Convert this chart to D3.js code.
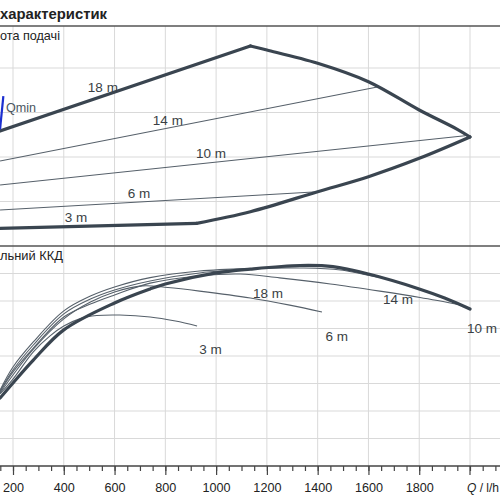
<!DOCTYPE html>
<html><head><meta charset="utf-8">
<script src="https://cdn.jsdelivr.net/npm/d3@7"></script>
<style>html,body{margin:0;padding:0;background:#fff;overflow:hidden}</style>
</head><body><svg id="c" width="500" height="500"></svg>
<script>
// ---------- data ----------
const titleText = "характеристик";
const topPanelText = "ота подачі";
const bottomPanelText = "льний ККД";
const xAxisName = "Q / l/h";
const qMajorTicks = [200, 400, 600, 800, 1000, 1200, 1400, 1600, 1800];
const qGrid = [200, 400, 600, 800, 1000, 1200, 1400, 1600, 1800, 2000];
const qMinorTicks = [150,200,250,300,350,400,450,500,550,600,650,700,750,800,850,900,950,1000,1050,1100,1150,1200,1250,1300,1350,1400,1450,1500,1550,1600,1650,1700,1750,1800,1850,1900,1950,2000,2050,2100];
const headGrid = [5, 10, 15, 20];
const effGrid = [10, 20, 30, 40, 50, 60, 70];

// top panel (Q, value)
const top18 = [[149, 12.92], [1135, 22.47]];
const topMaxCurve = [[1135, 22.47], [1200, 22.02], [1400, 20.53], [1600, 18.46], [1800, 15.28], [1950, 13.11], [2000, 12.25]];
const top14 = [[149, 9.55], [1635, 17.87]];
const top10 = [[149, 6.85], [1980, 12.39]];
const top6 = [[149, 4.04], [1400, 6.10]];
const top3 = [[149, 1.99], [923, 2.55]];
const topMinQCurve = [[923, 2.55], [1135, 3.85], [1400, 6.10], [1600, 7.79], [1800, 9.85], [2000, 12.25]];
const qminLine = [[149, 13.1], [162, 16.85]];

// bottom panel efficiency (Q, %)
const effMax = [[149,24.7],[200,30.2],[280,38.5],[400,49.5],[600,59.3],[740,64.4],[800,66.2],[1000,70.2],[1135,71.6],[1330,72.9],[1460,72.5],[1600,69.8],[1800,64.4],[1900,61.1],[2000,57.1]];
const eff18 = [[149,27.3],[200,34.9],[280,44.0],[400,55.3],[505,60.7],[600,64.0],[740,67.3],[935,70.2],[1055,71.1],[1135,71.5]];
const eff14 = [[149,27.6],[200,36.0],[280,45.1],[400,56.4],[505,61.8],[600,65.1],[740,68.5],[935,70.9],[1135,71.8],[1330,72.0],[1490,71.3],[1635,68.7]];
const eff10 = [[149,26.9],[200,34.2],[280,42.9],[400,54.2],[505,58.9],[600,62.2],[740,66.5],[935,69.1],[1095,69.8],[1250,68.4],[1450,66.2],[1645,63.6],[1803,61.3],[1970,58.5]];
const eff6 = [[149,26.5],[200,33.1],[280,42.5],[400,53.5],[505,59.6],[600,63.3],[710,65.5],[810,64.9],[935,63.6],[1135,61.1],[1290,58.5],[1417,56.0]];
const eff3 = [[149,26.2],[200,31.6],[280,41.5],[346,47.3],[400,50.9],[465,53.6],[530,54.7],[620,54.9],[740,54.2],[840,52.7],[925,50.9]];

const topLabels = [["18 m", 554, 17.87], ["14 m", 810, 14.16], ["10 m", 980, 10.45], ["6 m", 696, 5.96], ["3 m", 448, 3.26]];
const bottomLabels = [["18 m", 1204, 62.9], ["14 m", 1716, 60.7], ["10 m", 2047, 50.0], ["6 m", 1475, 47.4], ["3 m", 978, 42.4]];

// ---------- drawing ----------
const W = 500, H = 500;
const FONT = "'Liberation Sans', Arial, sans-serif";
const svg = d3.select("#c");
const x = d3.scaleLinear().domain([200, 2000]).range([13, 470]);
const yTop = d3.scaleLinear().domain([0, 25]).range([246, 23.5]);
const yBot = d3.scaleLinear().domain([0, 80]).range([466, 246]);

const defs = svg.append("defs");
defs.append("clipPath").attr("id", "clipTop").append("rect").attr("x", 0).attr("y", 26).attr("width", W).attr("height", 220);
defs.append("clipPath").attr("id", "clipBot").append("rect").attr("x", 0).attr("y", 246).attr("width", W).attr("height", 220);

const gridColor = "#d9d9d9";
const gGrid = svg.append("g");
gGrid.selectAll(".ht").data(headGrid).join("line")
  .attr("x1", 0).attr("x2", W).attr("y1", d => yTop(d)).attr("y2", d => yTop(d))
  .attr("stroke", gridColor).attr("stroke-width", 1);
gGrid.selectAll(".hb").data(effGrid).join("line")
  .attr("x1", 0).attr("x2", W).attr("y1", d => yBot(d)).attr("y2", d => yBot(d))
  .attr("stroke", gridColor).attr("stroke-width", 1);
gGrid.selectAll(".v").data(qGrid).join("line")
  .attr("x1", d => x(d)).attr("x2", d => x(d)).attr("y1", 26).attr("y2", 466)
  .attr("stroke", gridColor).attr("stroke-width", 1);

// separators
[26, 246].forEach(yy => svg.append("line").attr("x1", 0).attr("x2", W).attr("y1", yy).attr("y2", yy)
  .attr("stroke", "#555").attr("stroke-width", 1.4));

// axis
const axMinor = d3.axisBottom(x).tickValues(qMinorTicks).tickSize(5).tickFormat("");
const axMajor = d3.axisBottom(x).tickValues(qMajorTicks).tickSize(9).tickFormat(d => d);
const gMinor = svg.append("g").attr("transform", "translate(0,466)").call(axMinor);
const gMajor = svg.append("g").attr("transform", "translate(0,466)").call(axMajor);
[gMinor, gMajor].forEach(g => {
  g.select(".domain").remove();
  g.selectAll("line").attr("stroke", "#444").attr("stroke-width", 1.2);
});
gMajor.selectAll("text").attr("font-family", FONT).attr("font-size", 12.6).attr("fill", "#222").attr("dy", null).attr("y", 25.5);
const qlab = svg.append("text").attr("x", x(2000) - 3).attr("y", 491.5).attr("font-family", FONT).attr("font-size", 12).attr("fill", "#222");
qlab.append("tspan").attr("font-style", "italic").text("Q");
qlab.append("tspan").text(xAxisName.slice(1));
svg.append("line").attr("x1", x(2000)).attr("x2", x(2000)).attr("y1", 466).attr("y2", 475).attr("stroke", "#444").attr("stroke-width", 1.2);
svg.append("line").attr("x1", 0).attr("x2", W).attr("y1", 466).attr("y2", 466).attr("stroke", "#444").attr("stroke-width", 1.4);

// lines
const thick = "#3a4550", thin = "#56606a";
const lineTop = d3.line().x(d => x(d[0])).y(d => yTop(d[1]));
const curveTop = d3.line().x(d => x(d[0])).y(d => yTop(d[1])).curve(d3.curveCatmullRom.alpha(0.5));
const curveBot = d3.line().x(d => x(d[0])).y(d => yBot(d[1])).curve(d3.curveCatmullRom.alpha(0.5));

const gTop = svg.append("g").attr("clip-path", "url(#clipTop)");
[top14, top10, top6].forEach(d => gTop.append("path").attr("d", lineTop(d)).attr("fill", "none").attr("stroke", thin).attr("stroke-width", 1.1));
const thickStyle = p => p.attr("fill", "none").attr("stroke", thick).attr("stroke-width", 3.2).attr("stroke-linecap", "round").attr("stroke-linejoin", "round");
gTop.append("path").attr("d", lineTop(top18)).call(thickStyle);
gTop.append("path").attr("d", curveTop(topMaxCurve)).call(thickStyle);
gTop.append("path").attr("d", lineTop(top3)).call(thickStyle);
gTop.append("path").attr("d", curveTop(topMinQCurve)).call(thickStyle);
gTop.append("path").attr("d", lineTop(qminLine)).attr("fill", "none").attr("stroke", "#1c2fd0").attr("stroke-width", 2.2);

const gBot = svg.append("g").attr("clip-path", "url(#clipBot)");
[eff18, eff14, eff10, eff6, eff3].forEach(d => gBot.append("path").attr("d", curveBot(d)).attr("fill", "none").attr("stroke", thin).attr("stroke-width", 1.1));
gBot.append("path").attr("d", curveBot(effMax)).call(thickStyle);

// texts
const txt = (s, xx, yy, size, opts = {}) => svg.append("text").attr("x", xx).attr("y", yy)
  .attr("font-family", FONT).attr("font-size", size).attr("fill", opts.fill || "#333")
  .attr("font-weight", opts.bold ? "bold" : "normal").attr("text-anchor", opts.anchor || "start")
  .attr("dy", opts.dy || null).text(s);
const fitWidth = (t, target) => {
  const len = t.node().getComputedTextLength();
  if (len > 0) t.attr("font-size", +t.attr("font-size") * target / len);
  return t;
};

fitWidth(txt(titleText, 0, 19, 14, { bold: true, fill: "#222" }), 107);
fitWidth(txt(topPanelText, 0, 39.5, 12.6, { fill: "#222" }), 60);
fitWidth(txt(bottomPanelText, 0, 259.5, 12.6, { fill: "#222" }), 63);
txt("Qmin", 6, 112, 12.6, { fill: "#4a5560" });

topLabels.forEach(([s, q, v]) => txt(s, x(q), yTop(v), 13.5, { anchor: "middle", dy: "0.36em", fill: "#3a3f44" }));
bottomLabels.forEach(([s, q, v]) => txt(s, x(q), yBot(v), 13.5, { anchor: "middle", dy: "0.36em", fill: "#3a3f44" }));
</script></body></html>
